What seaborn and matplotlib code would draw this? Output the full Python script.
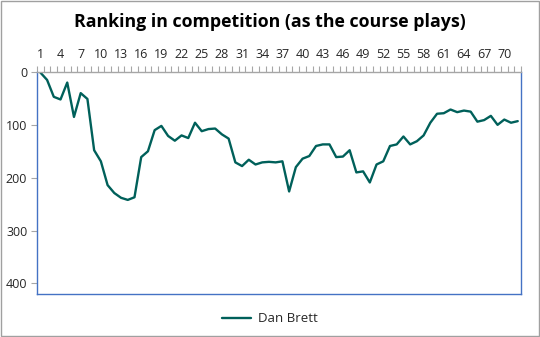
import matplotlib
matplotlib.use("Agg")
import matplotlib.pyplot as plt
from matplotlib.ticker import FixedLocator
import seaborn as sns
import pandas as pd

# Hole-by-hole position in the field, holes in the order they were played
holes = list(range(1, 73))
ranking = [
    1, 15, 47, 52, 20, 85, 40, 51, 148, 169, 214, 229,
    238, 242, 237, 161, 150, 110, 102, 121, 130, 120, 125, 96,
    112, 108, 107, 118, 126, 171, 178, 166, 175, 171, 170, 171,
    169, 226, 180, 164, 159, 140, 137, 137, 161, 160, 148, 190,
    188, 209, 175, 169, 140, 137, 122, 137, 131, 120, 96, 79,
    78, 71, 76, 73, 75, 94, 91, 83, 100, 90, 96, 93,
]
player = "Dan Brett"
x_labels = list(range(1, 73, 3))
y_ticks = [0, 100, 200, 300, 400]

df = pd.DataFrame({"Hole": holes, "Ranking": ranking, "Player": player})

sns.set_theme(style="white")
plt.rcParams["font.family"] = ["Open Sans", "DejaVu Sans"]

fig = plt.figure(figsize=(5.4, 3.37), dpi=100)
ax = fig.add_axes([0.0685, 0.1276, 0.8965, 0.6588])

line_color = "#00605A"
sns.lineplot(data=df, x="Hole", y="Ranking", hue="Player",
             palette=[line_color], linewidth=1.7, ax=ax, legend=False)

ax.set_xlim(0.5, 72.5)
ax.set_ylim(420, 0)

# Category labels along the top, tick marks between categories
ax.xaxis.tick_top()
ax.xaxis.set_label_position("top")
ax.set_xticks(x_labels)
ax.set_xticklabels([str(v) for v in x_labels])
ax.xaxis.set_minor_locator(FixedLocator([h - 0.5 for h in holes] + [72.5]))
ax.tick_params(axis="x", which="major", length=0, pad=8, labelsize=9,
               colors="#262626")
ax.tick_params(axis="x", which="minor", top=True, bottom=False, length=4,
               width=0.8, color="#A6A6A6", direction="out")

ax.set_yticks(y_ticks)
ax.tick_params(axis="y", which="major", left=True, length=4, width=0.8,
               color="#A6A6A6", labelsize=9, labelcolor="#262626", pad=3)

ax.set_xlabel("")
ax.set_ylabel("")
ax.grid(False)

frame_blue = "#4472C4"
for side in ["left", "right", "bottom"]:
    ax.spines[side].set_color(frame_blue)
    ax.spines[side].set_linewidth(1.0)
ax.spines["top"].set_color("#A6A6A6")
ax.spines["top"].set_linewidth(1.0)

fig.suptitle("Ranking in competition (as the course plays)", x=0.5, y=0.96,
             fontsize=12.8, fontweight="bold", color="#000000")

handle = plt.Line2D([], [], color=line_color, linewidth=1.7)
fig.legend([handle], [player], loc="lower center", bbox_to_anchor=(0.5, 0.0),
           frameon=False, fontsize=9.5, handlelength=2.2, handletextpad=0.5)

# Outer chart border
fig.patches.append(plt.Rectangle((0.001, 0.002), 0.997, 0.995,
                                 transform=fig.transFigure, fill=False,
                                 edgecolor="#A0A0A0", linewidth=1.0))

fig.savefig("out.png", dpi=100)
